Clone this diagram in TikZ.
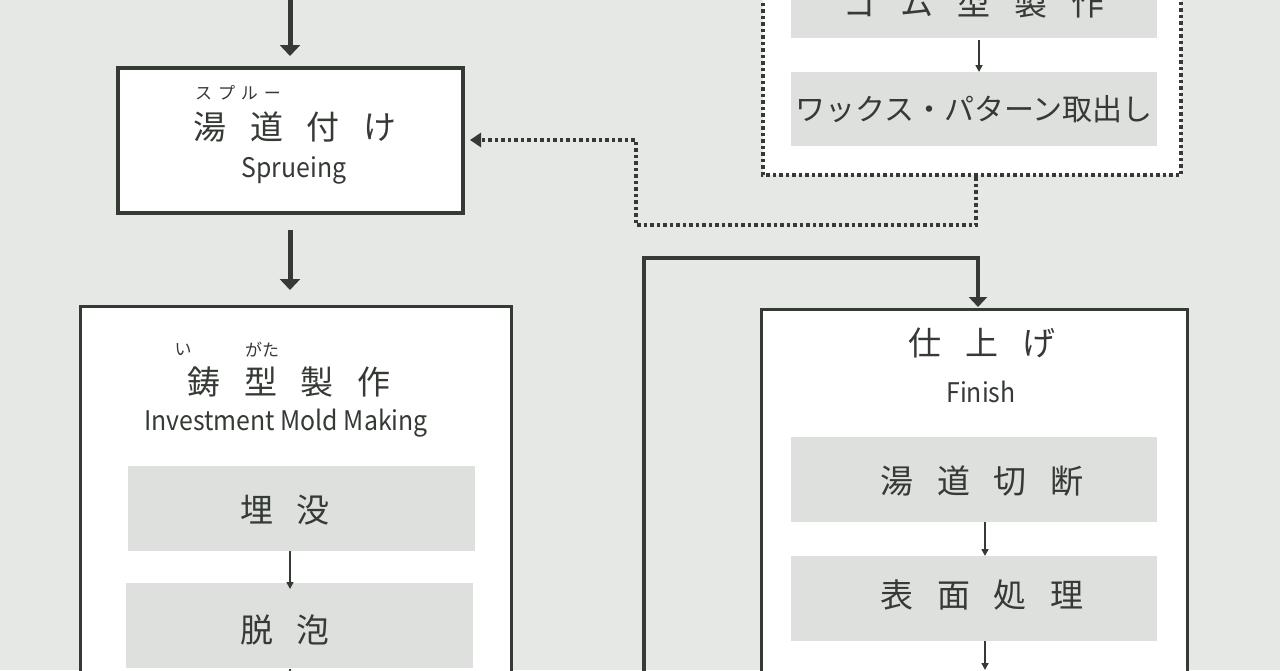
\documentclass[tikz,border=0pt]{standalone}
\usepackage{fontspec}
\usepackage{graphicx}
\setmainfont{Noto Sans CJK JP}
\usetikzlibrary{arrows.meta}
\definecolor{bg}{HTML}{E6E8E5}
\definecolor{dk}{HTML}{353A35}
\definecolor{gbox}{HTML}{DDE0DC}
\newcommand{\gp}{\hskip 0.72em}
\newcommand{\narrow}[1]{\scalebox{0.92}[1]{#1}}
\begin{document}
\begin{tikzpicture}[x=1pt,y=-1pt,
  every node/.style={text=dk,inner sep=0pt},
  big/.style={draw=dk,line width=3.5pt,fill=white},
  gray/.style={fill=gbox},
  thickarr/.style={draw=dk,line width=5pt,-{Triangle[length=11pt,width=20pt]}},
  thinarr/.style={draw=dk,line width=1.6pt,-{Triangle[length=7pt,width=7pt]}},
  dotline/.style={draw=dk,line width=3.5pt,dash pattern=on 3.5pt off 3pt},
  jp/.style={font=\fontsize{33}{36}\selectfont},
  jps/.style={font=\fontsize{30}{34}\selectfont},
  en/.style={font=\fontsize{27}{30}\selectfont},
  ruby/.style={font=\fontsize{17}{18}\selectfont}]
\fill[bg] (0,0) rectangle (1280,670);
\useasboundingbox (0,0) rectangle (1280,670);
\clip (0,0) rectangle (1280,670);
% dotted box top right
\draw[dotline,fill=white] (763,-30) rectangle (1181,175);
\fill[gray] (791,-40) rectangle (1157,38);
\node[jp] (gomu) at (974,3) {ゴ\gp ム\gp 型\gp 製\gp 作};
\fill[gray] (791,72) rectangle (1157,146);
\node[jps] (wax) at (974,109) {ワックス・パターン取出し};
\coordinate (g1) at (979,40);\coordinate (g2) at (979,72);
\draw[thinarr] (g1) -- (g2);
% Sprueing box
\draw[big] (118,68) rectangle (463,213);
\node[ruby] (r1) at (238,93) {ス\hskip0.35emプ\hskip0.35emル\hskip0.35emー};
\node[jp] (sprue) at (295,127) {湯\gp 道\gp 付\gp け};
\node[en] (sprueen) at (294,170) {\narrow{Sprueing}};
\coordinate (t0) at (290,0);\coordinate (t1) at (290,56);
\draw[thickarr] (t0) -- (t1);
\coordinate (s0) at (290,230);\coordinate (s1) at (290,290);
\draw[thickarr] (s0) -- (s1);
% dotted connector
\coordinate (d0) at (976,177);\coordinate (d1) at (976,225);
\coordinate (d2) at (636,225);\coordinate (d3) at (636,140);\coordinate (d4) at (470,140);
\draw[dotline,-{Triangle[length=11pt,width=14pt]}] (d0) -- (d1) -- (d2) -- (d3) -- (d4);
% mold box
\draw[big,line width=3pt] (80,306) rectangle (511,700);
\node[ruby] (r2) at (183,350) {い};
\node[ruby] (r3) at (262,350) {がた};
\node[jp] (mold) at (289,382) {鋳\gp 型\gp 製\gp 作};
\node[en] (molden) at (286,423) {\narrow{Investment Mold Making}};
\fill[gray] (128,466) rectangle (475,551);
\node[jp] (mai) at (285,510) {埋\gp 没};
\fill[gray] (126,583) rectangle (473,668);
\node[jp] (dap) at (285,630) {脱\gp 泡};
\coordinate (m1) at (290,551);\coordinate (m2) at (290,589);
\draw[thinarr] (m1) -- (m2);
\coordinate (m3) at (290,669);\coordinate (m4) at (290,700);
\draw[dk,line width=1.6pt] (m3) -- (m4);
% loop connector
\coordinate (l0) at (644,700);\coordinate (l1) at (644,258);\coordinate (l2) at (978,258);\coordinate (l3) at (978,307);
\draw[dk,line width=4pt,-{Triangle[length=10pt,width=18pt]}] (l0) -- (l1) -- (l2) -- (l3);
% finish box
\draw[big,line width=3pt] (761,309) rectangle (1187,700);
\node[jp] (fin) at (982,343) {仕\gp 上\gp げ};
\node[en] (finen) at (981,392) {\narrow{Finish}};
\fill[gray] (791,437) rectangle (1157,522);
\node[jp] (yu) at (982,481) {湯\gp 道\gp 切\gp 断};
\fill[gray] (791,556) rectangle (1157,641);
\node[jp] (hyo) at (982,595) {表\gp 面\gp 処\gp 理};
\coordinate (f1) at (985,522);\coordinate (f2) at (985,556);
\draw[thinarr] (f1) -- (f2);
\coordinate (f3) at (985,641);\coordinate (f4) at (985,670);
\draw[thinarr] (f3) -- (f4);
\end{tikzpicture}
\end{document}
